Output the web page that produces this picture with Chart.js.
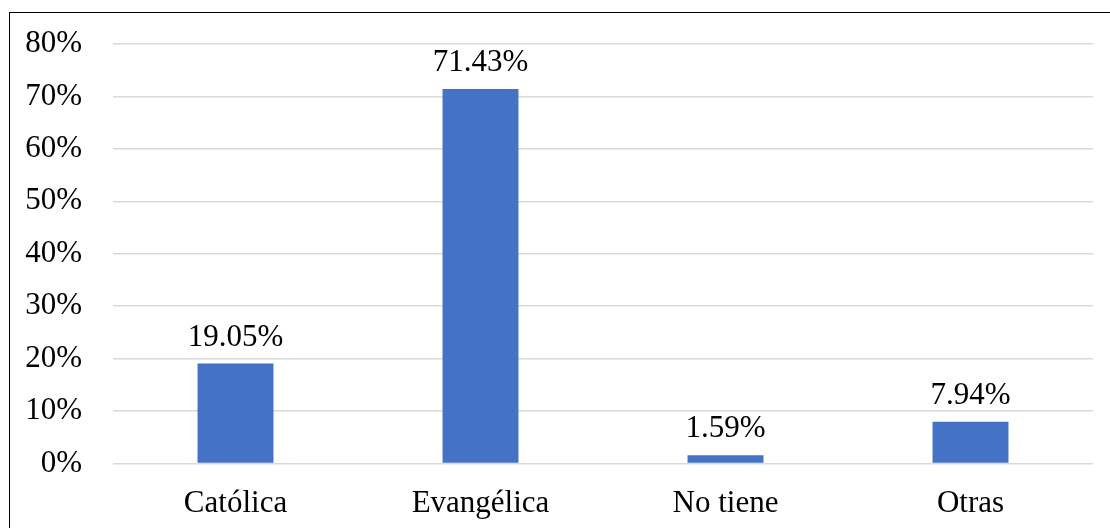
<!DOCTYPE html>
<html>
<head>
<meta charset="utf-8">
<script src="https://cdn.jsdelivr.net/npm/chart.js@4"></script>
<style>
  html, body { margin: 0; padding: 0; background: #fff; overflow: hidden; }
  body { width: 1110px; height: 528px; position: relative; }
  #frame { position: absolute; left: 9px; top: 12px; width: 1200px; height: 600px; border: 1.5px solid #000; box-sizing: border-box; }
  #wrap { position: absolute; left: 0; top: 0; width: 1110px; height: 528px; }
</style>
</head>
<body>
<div id="frame"></div>
<div id="wrap"><canvas id="c"></canvas></div>
<script>
const categories = ["Católica", "Evangélica", "No tiene", "Otras"];
const values = [19.05, 71.43, 1.59, 7.94];
const valueLabels = ["19.05%", "71.43%", "1.59%", "7.94%"];
const yTicks = [0, 10, 20, 30, 40, 50, 60, 70, 80];

const FONT = "'Liberation Serif', 'Times New Roman', serif";
const FSIZE = 31;

const barLabels = {
  id: 'barLabels',
  afterDatasetsDraw(chart) {
    const ctx = chart.ctx;
    const meta = chart.getDatasetMeta(0);
    ctx.save();
    ctx.font = FSIZE + "px " + FONT;
    ctx.fillStyle = "#000";
    ctx.textAlign = "center";
    ctx.textBaseline = "alphabetic";
    meta.data.forEach((bar, i) => {
      ctx.fillText(valueLabels[i], bar.x, bar.y - 18);
    });
    ctx.restore();
  }
};

new Chart(document.getElementById('c'), {
  type: 'bar',
  data: {
    labels: categories,
    datasets: [{
      data: values,
      backgroundColor: '#4472C4',
      borderWidth: 0,
      barPercentage: 0.31,
      categoryPercentage: 1.0
    }]
  },
  options: {
    responsive: true,
    maintainAspectRatio: false,
    animation: false,
    layout: { padding: { top: 44, right: 17, left: 0, bottom: 0 } },
    plugins: { legend: { display: false }, tooltip: { enabled: false } },
    scales: {
      x: {
        grid: { display: false },
        border: { display: false },
        ticks: { color: '#000', font: { family: FONT, size: FSIZE }, padding: 14, maxRotation: 0 },
        afterFit(scale) { scale.height = 528 - 463.5; }
      },
      y: {
        min: 0, max: 80,
        afterBuildTicks(scale) { scale.ticks = yTicks.map(v => ({ value: v })); },
        grid: { color: '#d9d9d9', lineWidth: 1.5, drawTicks: false },
        border: { display: false },
        ticks: {
          color: '#000', font: { family: FONT, size: FSIZE }, padding: 31,
          callback: v => v + '%'
        },
        afterFit(scale) { scale.width = 113; scale.paddingTop = 0; scale.paddingBottom = 0; }
      }
    }
  },
  plugins: [barLabels]
});
</script>
</body>
</html>
